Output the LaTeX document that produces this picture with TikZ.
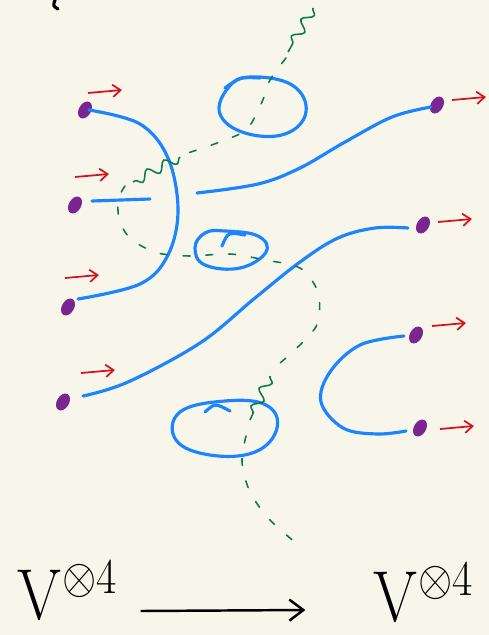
\documentclass[tikz,border=0pt]{standalone}
\usepackage{graphicx}
\usepackage{xcolor}
\usepackage{tikz}
\usetikzlibrary{arrows.meta,shapes.geometric,decorations.pathmorphing}

\definecolor{paper}{HTML}{F8F6EB}
\definecolor{strandblue}{HTML}{1A85FF}
\definecolor{dotpurple}{HTML}{7A2590}
\definecolor{pushred}{HTML}{D4141C}
\definecolor{gluongreen}{HTML}{0F7A4E}

\newcommand{\fourfold}{\scalebox{1.45}[1.65]{\fontsize{24}{24}\selectfont$\mathrm{V}^{\otimes 4}$}}

\tikzset{
  endpt/.style={ellipse, fill=dotpurple, draw=dotpurple, inner sep=0pt,
    minimum width=10pt, minimum height=6.5pt, rotate=60},
  strand/.style={strandblue, line width=1.8pt, line cap=round},
  push/.style={pushred, line width=1pt, -{Straight Barb[length=4.5pt,width=7pt]}},
  gluon/.style={gluongreen, line width=0.9pt, line cap=round,
    dash pattern=on 4pt off 9pt},
  wiggle/.style={gluongreen, line width=0.9pt,
    decorate, decoration={snake, segment length=11pt, amplitude=2.8pt}},
  space/.style={inner sep=0pt}
}

\begin{document}
\begin{tikzpicture}[x=0.02cm, y=-0.02cm]
\fill[paper] (0,0) rectangle (489,635);
\useasboundingbox (0,0) rectangle (489,635);

% stray mark at the top
\draw[line width=1.8pt, line cap=round] (55,0) .. controls (53,6) .. (58,9);

% End points
\node[endpt] (l1) at (85,110) {};
\node[endpt] (l2) at (75,205) {};
\node[endpt] (l3) at (68,307) {};
\node[endpt] (l4) at (63,402) {};
\node[endpt] (r1) at (437,105) {};
\node[endpt] (r2) at (423,225) {};
\node[endpt] (r3) at (416,335) {};
\node[endpt] (r4) at (420,428) {};

% Red arrows
\foreach \d/\dx/\dy in {l1/3/-17, l2/0/-28, l3/-3/-29, l4/18/-29,
                        r1/15/-5, r2/15/-3, r3/16/-9, r4/20/1} {
    \draw[push] ([shift={(\dx,\dy)}]\d.center) -- ++(34,-3);
}

% Strands
\draw[strand] plot[smooth, tension=0.6] coordinates {([shift={(4,0)}]l1.center) (140,124) (168,158) (178,210) (168,255) (140,284) ([shift={(10,-8)}]l3.center)};
\draw[strand] ([shift={(17,-4)}]l2.center) -- (150,199);
\draw[strand] plot[smooth, tension=0.6] coordinates {(197,193) (258,184) (300,168) (345,142) (392,117) ([shift={(-6,2)}]r1.center)};
\draw[strand] plot[smooth, tension=0.6] coordinates {([shift={(20,-6)}]l4.center) (128,382) (200,343) (255,298) (300,262) (338,238) (375,228) ([shift={(-15,3)}]r2.center)};
\draw[strand] plot[smooth, tension=0.6] coordinates {([shift={(-12,1)}]r3.center) (360,345) (330,372) (321,402) (343,428) (377,434) ([shift={(-14,3)}]r4.center)};

% Closed loops
\draw[strand] plot[smooth cycle, tension=0.7] coordinates {(250,77) (292,85) (306,112) (285,134) (245,133) (220,114) (228,88)};
\draw[strand] (225,88) .. controls (240,77) .. (260,78);
\draw[strand] plot[smooth cycle, tension=0.7] coordinates {(225,231) (258,236) (266,252) (240,268) (205,265) (195,248) (205,233)};
\draw[strand] (222,246) .. controls (228,232) .. (245,235);
\draw[strand] plot[smooth cycle, tension=0.7] coordinates {(225,401) (266,405) (277,428) (255,452) (210,455) (176,440) (180,412)};
\draw[strand] (205,412) .. controls (215,403) .. (230,411);

% Gluon line
\draw[wiggle] (313,8) -- (288,52);
\draw[gluon] plot[smooth] coordinates {(286,58) (270,80) (262,102) (248,128) (228,139) (185,154)};
\draw[wiggle] (180,157) -- (133,182);
\draw[gluon] plot[smooth] coordinates {(125,186) (118,200) (120,222) (132,240) (158,253) (190,256) (230,254) (265,260) (300,268) (318,292) (318,322) (305,340) (278,365)};
\draw[wiggle] (270,376) -- (250,420);
\draw[gluon] plot[smooth] coordinates {(246,436) (242,462) (250,492) (270,520) (302,548)};

% Spaces and map
\node[space] (src) at (68,590) {\fourfold};
\node[space] (tgt) at (424,592) {\fourfold};
\draw[line width=1.4pt, -{Straight Barb[length=8pt,width=12pt]}] ([shift={(22,21)}]src.east) -- ([shift={(-68,18)}]tgt.west);
\end{tikzpicture}
\end{document}
